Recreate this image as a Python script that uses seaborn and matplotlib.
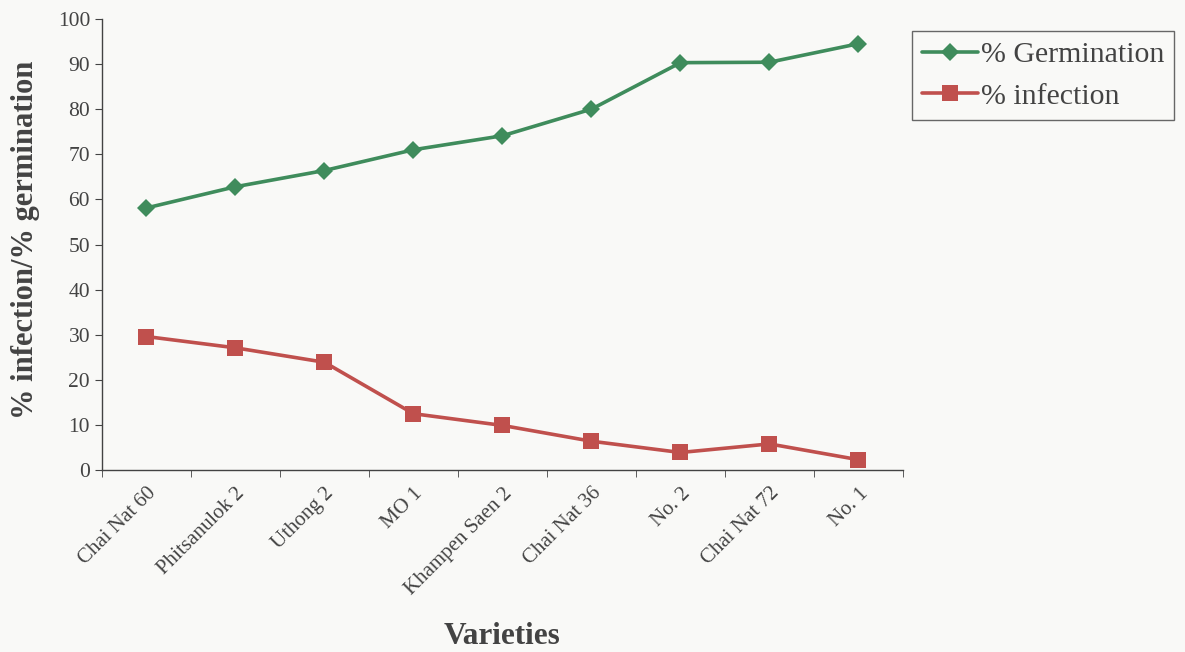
import pandas as pd
import matplotlib.pyplot as plt
import seaborn as sns
from matplotlib.ticker import FixedLocator

# Datos
variedades = ['Chai Nat 60', 'Phitsanulok 2', 'Uthong 2', 'MO 1', 'Khampen Saen 2',
              'Chai Nat 36', 'No. 2', 'Chai Nat 72', 'No. 1']
germinacion = [58.1, 62.8, 66.4, 71.0, 74.1, 80.0, 90.3, 90.4, 94.5]
infeccion = [29.6, 27.1, 23.9, 12.5, 9.9, 6.4, 3.9, 5.8, 2.3]
series = ['% Germination', '% infection']

df = pd.DataFrame({
    'variedad': variedades * 2,
    'valor': germinacion + infeccion,
    'serie': [series[0]] * len(variedades) + [series[1]] * len(variedades),
})

sns.set_style('ticks')
plt.rcParams['font.family'] = ['Liberation Serif', 'DejaVu Serif']
gris = '#434343'
fondo = '#f9f9f7'

fig = plt.figure(figsize=(11.85, 6.52), dpi=100, facecolor=fondo)
ax = fig.add_axes([0.086, 0.279, 0.676, 0.692], facecolor=fondo)

sns.lineplot(data=df, x='variedad', y='valor', hue='serie', style='serie',
             palette={series[0]: '#3f8c5c', series[1]: '#c0504d'},
             markers={series[0]: 'D', series[1]: 's'}, dashes=False,
             markersize=11.5, linewidth=2.6, markeredgewidth=0, ax=ax)

ax.set_xlim(-0.5, len(variedades) - 0.5)
ax.set_ylim(0, 100)
ax.set_yticks(range(0, 101, 10))
ax.xaxis.set_minor_locator(FixedLocator([i - 0.5 for i in range(len(variedades) + 1)]))
ax.tick_params(axis='x', which='major', length=0, pad=10)
ax.tick_params(axis='x', which='minor', length=5, color=gris, direction='out')
ax.tick_params(axis='y', length=5, color=gris, labelsize=15.5, labelcolor=gris)
plt.setp(ax.get_xticklabels(), rotation=45, ha='right', rotation_mode='anchor',
         fontsize=15, color=gris)

for s in ['top', 'right']:
    ax.spines[s].set_visible(False)
for s in ['left', 'bottom']:
    ax.spines[s].set_color(gris)
    ax.spines[s].set_linewidth(1.0)

ax.set_xlabel('Varieties', fontsize=22.5, fontweight='bold', color=gris, va='baseline')
ax.set_ylabel('% infection/% germination', fontsize=22, fontweight='bold', color=gris)
ax.xaxis.set_label_coords(0.5, -0.385)
ax.yaxis.set_label_coords(-0.077, 0.51)

handles, labels = ax.get_legend_handles_labels()
for h in list(handles) + list(ax.lines):
    if h.get_marker() == 'D':
        h.set_markersize(9.5)
leg = ax.legend(handles, labels, loc='upper left', bbox_to_anchor=(0.7695, 0.953),
                bbox_transform=fig.transFigure, fontsize=21.5, frameon=True, fancybox=False,
                handlelength=1.85, handletextpad=0.1, borderpad=0.35, labelspacing=0.5,
                borderaxespad=0)
leg.get_frame().set_edgecolor(gris)
leg.get_frame().set_linewidth(1.0)
leg.get_frame().set_facecolor(fondo)
for t in leg.get_texts():
    t.set_color(gris)

fig.savefig('out.png', dpi=100, facecolor=fondo)
